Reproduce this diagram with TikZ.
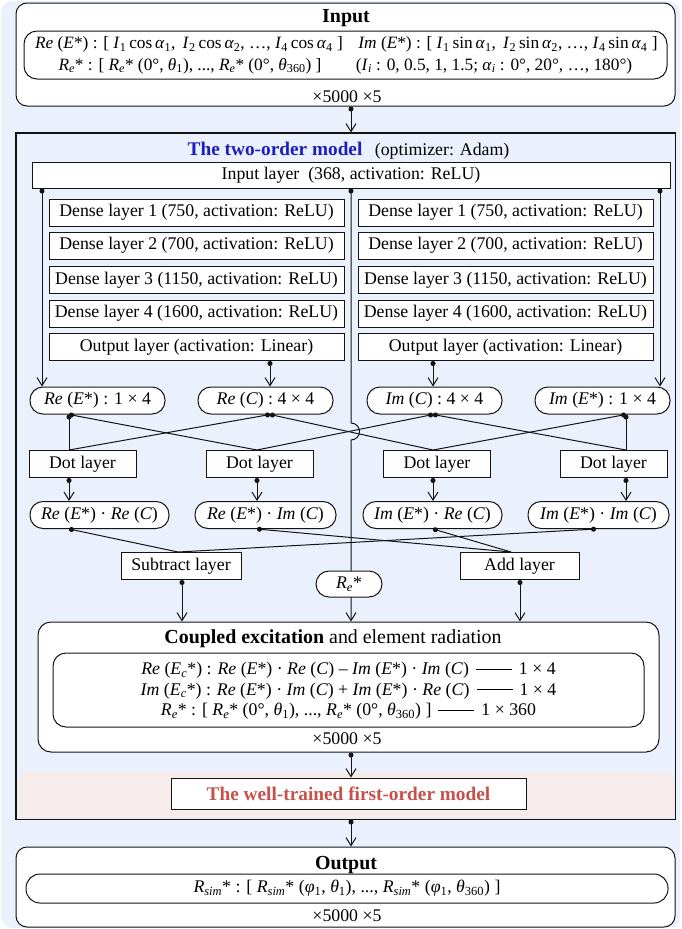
\documentclass[tikz,border=0pt]{standalone}
\usepackage{fontspec}
\setmainfont{Liberation Serif}
\usetikzlibrary{arrows.meta}

\definecolor{bgblue}{RGB}{234,241,252}
\definecolor{pinkbg}{RGB}{247,236,236}
\definecolor{titleblue}{RGB}{30,30,190}
\definecolor{titlered}{RGB}{200,80,75}
\definecolor{edge}{RGB}{20,20,20}

% notation used throughout the labels
\newcommand{\ReT}{\textit{Re}}
\newcommand{\ImT}{\textit{Im}}
\newcommand{\Es}{\textit{E}*}
\newcommand{\Ecs}{\textit{E}\textsubscript{\textit{c}}*}
\newcommand{\Rs}{\textit{R}\textsubscript{\textit{e}}*}
\newcommand{\Rsim}{\textit{R}\textsubscript{\textit{sim}}*}
\newcommand{\itsub}[2]{\textit{#1}\textsubscript{#2}}
\newcommand{\longdash}{\hspace{7pt}\rule[5pt]{36pt}{0.8pt}\hspace{7pt}}

\tikzset{
  every node/.style={font=\fontsize{17.8}{21}\selectfont, inner sep=0pt, text=black},
  headfont/.style={font=\fontsize{19.9}{23}\selectfont},
  boldhead/.style={font=\fontsize{19.9}{23}\selectfont\bfseries},
  panel/.style={draw=edge, line width=1pt, fill=white, rounded corners=11pt},
  innerpanel/.style={draw=edge, line width=1pt, fill=white, rounded corners=13pt},
  layerbox/.style={draw=edge, line width=1pt, fill=white},
  pill/.style={draw=edge, line width=1pt, fill=white, rounded corners=13pt},
  link/.style={line width=1pt, draw=edge},
  flow/.style={link, {Circle[length=5pt]}-{Straight Barb[length=8pt,width=10pt]}},
  dotlink/.style={link, {Circle[length=5pt]}-},
}

\begin{document}
\begin{tikzpicture}[x=1pt, y=-1pt]
\useasboundingbox (0,0) rectangle (681,929);
\fill[white] (0,0) rectangle (681,929);
\fill[bgblue, rounded corners=12pt] (1,1) rectangle (680,928);

% column positions of the connectors
\coordinate (cL) at (42,0);
\coordinate (cM) at (351,0);
\coordinate (cR) at (660,0);
\coordinate (kA) at (69,0);
\coordinate (kB) at (257,0);
\coordinate (kRC) at (270,0);
\coordinate (kC) at (433,0);
\coordinate (kD) at (626,0);
\coordinate (kD2) at (596,0);
\coordinate (kSi) at (178,0);
\coordinate (kSo) at (182,0);
\coordinate (kAi) at (511,0);
\coordinate (kAo) at (520,0);

% ---------------- Input ----------------
\node[panel, minimum width=659pt, minimum height=103pt] (inbox) at (345.5,54.5) {};
\node[boldhead] (intitle) at (346,18) {Input};
\node[innerpanel, minimum width=643pt, minimum height=48pt] (ininner) at (345.5,55) {};
\begin{scope}[every node/.style={font=\fontsize{17.3}{21}\selectfont, inner sep=0pt}]
\node (inL1) at (189,44.5) {\ReT{} (\Es) : [ \itsub{I}{1}\,cos\,\itsub{α}{1},\ \,\itsub{I}{2}\,cos\,\itsub{α}{2}, …, \itsub{I}{4}\,cos\,\itsub{α}{4} ]};
\node (inR1) at (508,44.5) {\ImT{} (\Es) : [ \itsub{I}{1}\,sin\,\itsub{α}{1},\ \,\itsub{I}{2}\,sin\,\itsub{α}{2}, …, \itsub{I}{4}\,sin\,\itsub{α}{4} ]};
\node (inL2) at (190,66) {\Rs{} : [ \Rs{} (0°, \itsub{θ}{1}), ..., \Rs{} (0°, \itsub{θ}{360}) ]};
\node (inR2) at (494,66) {(\itsub{I}{\textit{i}} : 0, 0.5, 1, 1.5; \itsub{α}{\textit{i}} : 0°, 20°, …, 180°)};
\end{scope}
\node (inmult) at (347,97) {×5000 ×5};

% ---------------- Two-order model ----------------
\node[draw=edge, line width=1pt, fill=bgblue, minimum width=659pt, minimum height=686pt] (two) at (345.5,476) {};
\fill[pinkbg] (17,818.5) [rounded corners=10pt]-- (17,772) -- (674,772) [sharp corners]-- (674,818.5) -- cycle;
\draw[edge, line width=1pt] (two.north west) rectangle (two.south east);
\node (twotitle) at (348.5,151) {{\fontsize{19.3}{22}\selectfont\bfseries\color{titleblue}The two-order model}\hspace{0.7em}(optimizer: Adam)};

\node[layerbox, minimum width=638pt, minimum height=26pt] (il) at (351,175) {Input layer\ \ (368, activation: ReLU)};

\node[layerbox, minimum width=295pt, minimum height=27pt] (dl1) at (196.5,212.5) {Dense layer 1 (750, activation: ReLU)};
\node[layerbox, minimum width=295pt, minimum height=27pt] (dl2) at (196.5,245.5) {Dense layer 2 (700, activation: ReLU)};
\node[layerbox, minimum width=295pt, minimum height=27pt] (dl3) at (196.5,280) {Dense layer 3 (1150, activation: ReLU)};
\node[layerbox, minimum width=295pt, minimum height=27pt] (dl4) at (196.5,313.5) {Dense layer 4 (1600, activation: ReLU)};
\node[layerbox, minimum width=295pt, minimum height=27pt] (olL) at (196.5,347) {Output layer (activation: Linear)};

\node[layerbox, minimum width=295pt, minimum height=27pt] (dr1) at (505.5,212.5) {Dense layer 1 (750, activation: ReLU)};
\node[layerbox, minimum width=295pt, minimum height=27pt] (dr2) at (505.5,245.5) {Dense layer 2 (700, activation: ReLU)};
\node[layerbox, minimum width=295pt, minimum height=27pt] (dr3) at (505.5,280) {Dense layer 3 (1150, activation: ReLU)};
\node[layerbox, minimum width=295pt, minimum height=27pt] (dr4) at (505.5,313.5) {Dense layer 4 (1600, activation: ReLU)};
\node[layerbox, minimum width=295pt, minimum height=27pt] (olR) at (505.5,347) {Output layer (activation: Linear)};

% split outputs
\node[pill, minimum width=135pt, minimum height=27pt] (reE) at (97.5,400.5) {\ReT{} (\Es) : 1 × 4};
\node[pill, minimum width=135pt, minimum height=27pt] (reC) at (265.5,400.5) {\ReT{} (\textit{C}) : 4 × 4};
\node[pill, minimum width=135pt, minimum height=27pt] (imC) at (434.5,400.5) {\ImT{} (\textit{C}) : 4 × 4};
\node[pill, minimum width=135pt, minimum height=27pt] (imE) at (602.5,400.5) {\ImT{} (\Es) : 1 × 4};

% dot products
\node[layerbox, minimum width=107pt, minimum height=27pt] (dot1) at (82.5,464) {Dot layer};
\node[layerbox, minimum width=107pt, minimum height=27pt] (dot2) at (259.5,464) {Dot layer};
\node[layerbox, minimum width=107pt, minimum height=27pt] (dot3) at (437,464) {Dot layer};
\node[layerbox, minimum width=107pt, minimum height=27pt] (dot4) at (613.5,464) {Dot layer};

\node[pill, minimum width=139pt, minimum height=27pt] (p1) at (99.5,515) {\ReT{} (\Es) · \ReT{} (\textit{C})};
\node[pill, minimum width=141pt, minimum height=27pt] (p2) at (265.5,515) {\ReT{} (\Es) · \ImT{} (\textit{C})};
\node[pill, minimum width=139pt, minimum height=27pt] (p3) at (432.5,515) {\ImT{} (\Es) · \ReT{} (\textit{C})};
\node[pill, minimum width=141pt, minimum height=27pt] (p4) at (598.5,515) {\ImT{} (\Es) · \ImT{} (\textit{C})};

\node[layerbox, minimum width=120pt, minimum height=27pt] (sub) at (181,566) {Subtract layer};
\node[layerbox, minimum width=119pt, minimum height=27pt] (add) at (519.5,566) {Add layer};

% coupled excitation
\node[panel, rounded corners=13pt, minimum width=621pt, minimum height=130pt] (couple) at (348.5,687) {};
\node[headfont] (coupletitle) at (333,639) {\textbf{Coupled excitation} and element radiation};
\node[innerpanel, minimum width=591pt, minimum height=74pt] (coupleinner) at (348.5,690) {};
\node[align=center, font=\fontsize{17.8}{20.7}\selectfont] (couplelines) at (348.5,691) {%
  \ReT{} (\Ecs) : \ReT{} (\Es) · \ReT{} (\textit{C}) – \ImT{} (\Es) · \ImT{} (\textit{C})\longdash 1 × 4\\
  \ImT{} (\Ecs) : \ReT{} (\Es) · \ImT{} (\textit{C}) + \ImT{} (\Es) · \ReT{} (\textit{C})\longdash 1 × 4\\
  \Rs{} : [ \Rs{} (0°, \itsub{θ}{1}), ..., \Rs{} (0°, \itsub{θ}{360}) ]\longdash 1 × 360};
\node (couplemult) at (347,739) {×5000 ×5};

\node[layerbox, minimum width=355pt, minimum height=31pt] (well) at (348.5,793.5)
  {\fontsize{19.3}{22}\selectfont\bfseries\color{titlered}The well-trained first-order model};

% ---------------- Output ----------------
\node[panel, minimum width=659pt, minimum height=80pt] (outbox) at (345.5,887) {};
\node[boldhead] (outtitle) at (346,865) {Output};
\node[pill, rounded corners=14pt, minimum width=642pt, minimum height=29pt] (outinner) at (347,888.5)
  {\Rsim{} : [ \Rsim{} (\itsub{φ}{1}, \itsub{θ}{1}), ..., \Rsim{} (\itsub{φ}{1}, \itsub{θ}{360}) ]};
\node (outmult) at (347,916) {×5000 ×5};

% ---------------- connectors ----------------
\draw[flow] (inbox.south -| cM) -- (two.north -| cM);
\draw[flow] (il.south -| cL) -- (reE.north -| cL);
\draw[flow] (il.south -| cR) -- (imE.north -| cR);
\draw[flow] (olL.south -| kRC) -- (reC.north -| kRC);
\draw[flow] (olR.south -| kC) -- (imC.north -| kC);

% shared input runs down the middle, hopping over the crossing lines
\coordinate (hop) at (351,423);
\draw[flow] (il.south -| cM) -- (hop) arc[start angle=90, end angle=-90, radius=8.5pt] -- (couple.north -| cM);

\draw[dotlink] (reE.south -| kA) -- (dot1.north -| kA);
\draw[dotlink] (reE.south -| kA) -- (dot2.north -| kB);
\draw[dotlink] (reC.south -| kRC) -- (dot1.north -| kA);
\draw[dotlink] (reC.south -| kRC) -- (dot3.north -| kC);
\draw[dotlink] (imC.south -| kC) -- (dot2.north -| kB);
\draw[dotlink] (imC.south -| kC) -- (dot4.north -| kD);
\draw[dotlink] (imE.south -| kD) -- (dot4.north -| kD);
\draw[dotlink] (imE.south -| kD) -- (dot3.north -| kC);

\draw[flow] (dot1.south -| kA) -- (p1.north -| kA);
\draw[flow] (dot2.south -| kB) -- (p2.north -| kB);
\draw[flow] (dot3.south -| kC) -- (p3.north -| kC);
\draw[flow] (dot4.south -| kD) -- (p4.north -| kD);

\draw[dotlink] (p1.south -| kA) -- (sub.north -| kSi);
\draw[dotlink] (p4.south -| kD2) -- (sub.north -| kSi);
\draw[dotlink] (p2.south -| kB) -- (add.north -| kAi);
\draw[dotlink] (p3.south -| kC) -- (add.north -| kAi);

\draw[flow] (sub.south -| kSo) -- (couple.north -| kSo);
\draw[flow] (add.south -| kAo) -- (couple.north -| kAo);

\draw[flow] (couple.south -| cM) -- (well.north -| cM);
\draw[flow] (two.south -| cM) -- (outbox.north -| cM);

% element pattern input sits over the middle run
\node[pill, minimum width=66pt, minimum height=26pt] (rstar) at (349,584) {\Rs};
\end{tikzpicture}
\end{document}
